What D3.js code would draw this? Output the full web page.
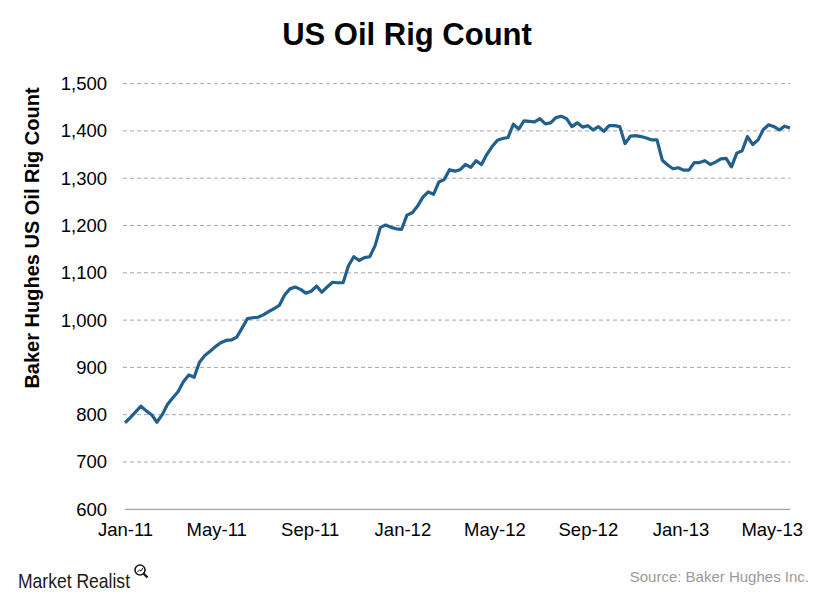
<!DOCTYPE html>
<html>
<head>
<meta charset="utf-8">
<script src="https://cdn.jsdelivr.net/npm/d3@7/dist/d3.min.js"></script>
<style>
  html, body { margin: 0; padding: 0; background: #fff; }
  svg { display: block; }
</style>
</head>
<body>
<div id="chart"></div>
<script>
// ---- Data (weekly Baker Hughes US oil rig count) ----
const startDate = "2011-01-07";   // first weekly observation
const rigCount = [
  783, 794, 806, 818, 808, 800, 784, 800, 822, 836,
  849, 870, 884, 879, 911, 925, 934, 944, 952, 957,
  958, 964, 983, 1003, 1005, 1006, 1011, 1018, 1024, 1031,
  1053, 1066, 1070, 1065, 1057, 1061, 1072, 1059, 1070, 1080,
  1079, 1079, 1115, 1134, 1126, 1132, 1134, 1157, 1196, 1201,
  1196, 1193, 1192, 1222, 1227, 1241, 1260, 1271, 1266, 1292,
  1297, 1318, 1315, 1318, 1329, 1323, 1337, 1329, 1350, 1367,
  1380, 1384, 1386, 1414, 1404, 1421, 1420, 1419, 1426, 1415,
  1417, 1428, 1431, 1426, 1409, 1417, 1408, 1411, 1402, 1409,
  1399, 1411, 1411, 1409, 1373, 1389, 1390, 1388, 1385, 1381,
  1381, 1338, 1328, 1320, 1322, 1317, 1317, 1333, 1333, 1337,
  1329, 1334, 1341, 1342, 1324, 1353, 1358, 1388, 1371, 1381,
  1403, 1413, 1409, 1402, 1410, 1406
];
const xTickDates = ["2011-01-07", "2011-05-07", "2011-09-07", "2012-01-07",
                    "2012-05-07", "2012-09-07", "2013-01-07", "2013-05-07"];
const yTicks = [600, 700, 800, 900, 1000, 1100, 1200, 1300, 1400, 1500];

const title = "US Oil Rig Count";
const yTitle = "Baker Hughes US Oil Rig Count";
const sourceText = "Source: Baker Hughes Inc.";
const brandText = "Market Realist";

// ---- Build ----
const parse = d3.utcParse("%Y-%m-%d");
const t0 = parse(startDate);
const data = rigCount.map((v, i) => ({ date: d3.utcDay.offset(t0, 7 * i), value: v }));

const W = 840, H = 600;
const plot = { left: 125, right: 790, top: 83.6, bottom: 509.3 };
const FONT = "'Liberation Sans', Arial, sans-serif";

const svg = d3.select("#chart").append("svg")
  .attr("width", W).attr("height", H)
  .style("font-family", FONT);

const x = d3.scaleUtc()
  .domain([data[0].date, data[data.length - 1].date])
  .range([plot.left, plot.right]);
const y = d3.scaleLinear().domain([600, 1500]).range([plot.bottom, plot.top]);

// gridlines
svg.append("g").selectAll("line")
  .data(yTicks.filter(d => d !== 600))
  .join("line")
  .attr("x1", plot.left - 2).attr("x2", plot.right)
  .attr("y1", d => y(d)).attr("y2", d => y(d))
  .attr("stroke", "#a6a6a6").attr("stroke-width", 1)
  .attr("stroke-dasharray", "4,3");

// base axis line
svg.append("line")
  .attr("x1", plot.left).attr("x2", plot.right)
  .attr("y1", y(600)).attr("y2", y(600))
  .attr("stroke", "#8c8c8c").attr("stroke-width", 1);

// y axis labels
const yAxis = d3.axisLeft(y).tickValues(yTicks).tickSize(0).tickPadding(0)
  .tickFormat(d3.format(","));
const gy = svg.append("g").attr("transform", `translate(${plot.left - 18},0)`).call(yAxis);
gy.select(".domain").remove();
gy.selectAll("text")
  .attr("font-size", 18.5).attr("fill", "#000")
  .style("font-family", FONT);

// x axis labels
const xAxis = d3.axisBottom(x).tickValues(xTickDates.map(parse)).tickSize(0).tickPadding(0)
  .tickFormat(d3.utcFormat("%b-%y"));
const gx = svg.append("g").attr("transform", `translate(0,${plot.bottom + 14})`).call(xAxis);
gx.select(".domain").remove();
gx.selectAll("text")
  .attr("font-size", 18.5).attr("fill", "#000")
  .style("font-family", FONT);

// line
const line = d3.line().x(d => x(d.date)).y(d => y(d.value));
svg.append("path").datum(data)
  .attr("d", line)
  .attr("fill", "none")
  .attr("stroke", "#215f8c")
  .attr("stroke-width", 3.2)
  .attr("stroke-linejoin", "round");

// title
svg.append("text")
  .attr("x", 407).attr("y", 45)
  .attr("text-anchor", "middle")
  .attr("font-size", 31).attr("font-weight", "bold")
  .text(title);

// y title
svg.append("text")
  .attr("transform", `translate(39,238) rotate(-90)`)
  .attr("text-anchor", "middle")
  .attr("font-size", 20).attr("font-weight", "bold")
  .text(yTitle);

// source
svg.append("text")
  .attr("x", 809).attr("y", 582)
  .attr("text-anchor", "end")
  .attr("font-size", 15).attr("fill", "#9a9a9a")
  .text(sourceText);

// brand
const brand = svg.append("g");
brand.append("text")
  .attr("x", 18).attr("y", 588)
  .attr("font-size", 21).attr("fill", "#1a1a1a")
  .attr("textLength", 112).attr("lengthAdjust", "spacingAndGlyphs")
  .text(brandText);
brand.append("circle")
  .attr("cx", 140).attr("cy", 570).attr("r", 5)
  .attr("fill", "none").attr("stroke", "#1a1a1a").attr("stroke-width", 1.6);
brand.append("line")
  .attr("x1", 143.6).attr("y1", 573.6).attr("x2", 147.5).attr("y2", 577.5)
  .attr("stroke", "#1a1a1a").attr("stroke-width", 2.2);
brand.append("path")
  .attr("d", "M137.5,572 L139.5,570 L141,571 L142.8,568")
  .attr("fill", "none").attr("stroke", "#1a1a1a").attr("stroke-width", 1);
</script>
</body>
</html>
